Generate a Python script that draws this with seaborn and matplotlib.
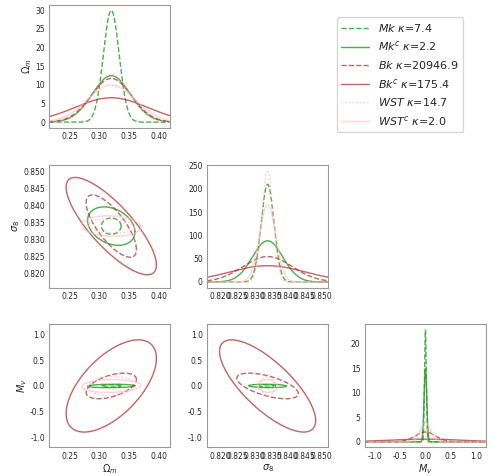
import numpy as np
import pandas as pd
import matplotlib
matplotlib.use("Agg")
import matplotlib.pyplot as plt
import seaborn as sns

sns.set_style("white")

labels = [r"$Mk$ $\kappa$=7.4", r"$Mk^c$ $\kappa$=2.2", r"$Bk$ $\kappa$=20946.9",
          r"$Bk^c$ $\kappa$=175.4", r"$WST$ $\kappa$=14.7", r"$WST^c$ $\kappa$=2.0"]
colors = ["#2ca02c", "#2ca02c", "#b03030", "#b03030", "#ffb6c1", "#ffb6c1"]
styles = ["--", "-", "--", "-", ":", "-"]
alphas = [0.85, 0.85, 0.75, 0.75, 0.8, 0.6]

params = [r"$\Omega_m$", r"$\sigma_8$", r"$M_\nu$"]
fiducial = [0.32, 0.834, 0.0]
# 1-sigma errors per probe (Om, s8, Mnu), read from peak heights
sig_om = [0.0133, 0.032, 0.034, 0.061, 0.031, 0.040]
sig_s8 = [0.0019, 0.0045, 0.0073, 0.0114, 0.00166, 0.0024]
sig_mv = [0.0173, 0.0266, 0.20, 0.72, 0.15, 0.10]
# correlations (Om-s8, Om-Mnu, s8-Mnu)
r_os = [0.0, -0.3, -0.75, -0.8, -0.2, -0.1]
r_om = [0.1, 0.1, 0.5, 0.6, 0.1, 0.1]
r_sm = [-0.1, -0.1, -0.6, -0.75, -0.1, -0.1]
lims = [(0.215, 0.42), (0.816, 0.852), (-1.2, 1.2)]
ticks = [[0.25, 0.30, 0.35, 0.40],
         [0.820, 0.825, 0.830, 0.835, 0.840, 0.845, 0.850],
         [-1.0, -0.5, 0.0, 0.5, 1.0]]
fmts = ["{:.2f}", "{:.3f}", "{:.1f}"]
scale = 1.25

fig, axes = plt.subplots(3, 3, figsize=(4.91, 4.76), dpi=100)
t = np.linspace(0, 2 * np.pi, 200)
for k in range(6):
    sig = np.array([sig_om[k], sig_s8[k], sig_mv[k]])
    corr = np.array([[1, r_os[k], r_om[k]], [r_os[k], 1, r_sm[k]], [r_om[k], r_sm[k], 1]])
    cov = corr * np.outer(sig, sig)
    kw = dict(color=colors[k], linestyle=styles[k], alpha=alphas[k], linewidth=1)
    for i in range(3):
        x = np.linspace(*lims[i], 400)
        y = np.exp(-0.5 * ((x - fiducial[i]) / sig[i]) ** 2) / (sig[i] * np.sqrt(2 * np.pi))
        sns.lineplot(x=x, y=y, ax=axes[i, i], label=labels[k], legend=False,
                     estimator=None, **kw)
        for j in range(i):
            c = cov[np.ix_([j, i], [j, i])]
            L = np.linalg.cholesky(c)
            pts = scale * L @ np.vstack([np.cos(t), np.sin(t)])
            sns.lineplot(x=pts[0] + fiducial[j], y=pts[1] + fiducial[i], ax=axes[i, j],
                         sort=False, estimator=None, **kw)

for i in range(3):
    for j in range(3):
        ax = axes[i, j]
        if j > i:
            ax.set_visible(False)
            continue
        ax.set_xlim(*lims[j])
        ax.set_xticks(ticks[j])
        ax.set_xticklabels([fmts[j].format(v) for v in ticks[j]])
        if i != j:
            ax.set_ylim(*lims[i])
            ax.set_yticks(ticks[i])
            ax.set_yticklabels([fmts[i].format(v) for v in ticks[i]])
        ax.tick_params(labelsize=5.5, length=2, pad=1)
        for s in ax.spines.values():
            s.set_color("#999999")
        ax.set_xlabel(params[j] if i == 2 else "", fontsize=7, labelpad=1)
        ax.set_ylabel(params[i] if j == 0 else "", fontsize=7, labelpad=1)

axes[2, 2].set_xlabel(params[2], fontsize=7, labelpad=1)
h, l = axes[0, 0].get_legend_handles_labels()
fig.legend(h, l, loc="upper right", bbox_to_anchor=(0.955, 0.975), fontsize=8,
           handlelength=2.5)
plt.subplots_adjust(left=0.1, right=0.99, bottom=0.06, top=0.99, wspace=0.3, hspace=0.3)
plt.savefig("out.png", dpi=100)
